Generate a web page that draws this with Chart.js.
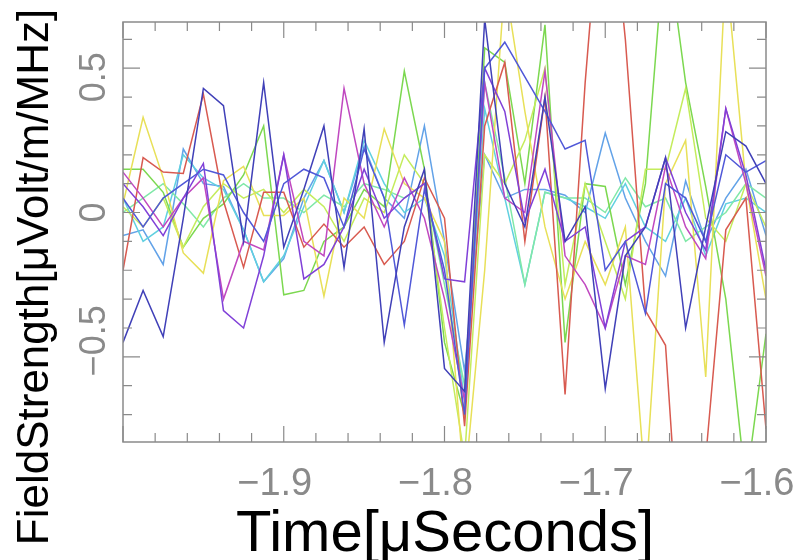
<!DOCTYPE html>
<html>
<head>
<meta charset="utf-8">
<script src="https://cdn.jsdelivr.net/npm/chart.js@4.4.0/dist/chart.umd.min.js"></script>
<style>
  html, body { margin: 0; padding: 0; background: #fff; }
  #wrap { width: 811px; height: 560px; }
</style>
</head>
<body>
<div id="wrap"><canvas id="chart" width="811" height="560"></canvas></div>
<script>
// sample times in microseconds (12.5 ns steps)
const times = [-2.0, -1.9875, -1.975, -1.9625, -1.95, -1.9375, -1.925, -1.9125, -1.9, -1.8875, -1.875,
  -1.8625, -1.85, -1.8375, -1.825, -1.8125, -1.8, -1.7875, -1.775, -1.7625, -1.75, -1.7375,
  -1.725, -1.7125, -1.7, -1.6875, -1.675, -1.6625, -1.65, -1.6375, -1.625, -1.6125, -1.6];

const xTicks = [-1.9, -1.8, -1.7, -1.6];
const yTicks = [-0.5, 0, 0.5];
const yLabelShift = [-16, 0, 9]; // ROOT puts the rotated labels slightly off the tick

// field strength per antenna
const ant1 = [-0.45, -0.27, -0.43, -0.02, 0.43, 0.37, -0.10, 0.45, -0.12, 0.08, 0.30, -0.19, 0.29, -0.45, -0.05, 0.15, -0.54, -0.62, 0.67, 0.10, -0.05, 0.40, -0.10, 0.02, -0.61, -0.15, -0.05, 0.19, -0.40, -0.05, 0.28, 0.23, 0.10];
const ant2 = [0.05, -0.05, 0.05, 0.10, 0.15, 0.13, 0.00, -0.10, 0.10, 0.15, 0.12, -0.05, 0.22, 0.05, -0.39, 0.08, -0.20, -0.70, 0.50, 0.59, 0.47, 0.35, 0.22, 0.25, -0.20, -0.10, -0.35, 0.10, 0.05, -0.10, 0.20, 0.14, 0.18];
const ant3 = [0.10, 0.02, -0.08, 0.05, 0.17, -0.34, -0.40, -0.15, 0.20, -0.23, -0.18, -0.05, 0.15, -0.02, 0.05, 0.10, -0.23, -0.24, 0.50, 0.35, -0.03, 0.15, -0.10, -0.05, -0.40, -0.10, -0.05, 0.19, 0.00, -0.13, 0.36, 0.13, -0.20];
const ant4 = [0.14, 0.05, -0.05, 0.05, 0.12, -0.30, -0.10, -0.13, 0.20, -0.10, -0.15, 0.43, 0.10, -0.05, 0.12, -0.02, -0.30, -0.65, 0.45, 0.05, 0.00, 0.49, -0.15, -0.25, -0.40, -0.15, -0.18, 0.16, -0.05, -0.16, 0.36, 0.10, -0.22];
const ant5 = [-0.20, 0.19, 0.14, 0.135, 0.41, 0.04, -0.19, 0.07, 0.07, -0.12, -0.04, -0.12, -0.05, -0.18, -0.10, 0.12, -0.02, -0.74, 0.30, 0.52, -0.10, 0.40, -0.63, 0.45, 1.30, 0.60, -0.34, -0.46, -1.50, -0.85, -0.06, 0.05, -0.75];
const ant6 = [0.03, 0.33, 0.12, -0.14, -0.21, 0.11, 0.16, -0.01, -0.01, 0.05, -0.29, 0.05, -0.02, 0.29, 0.10, 0.05, -0.10, -0.95, -0.20, 0.80, 0.35, -0.05, -0.30, -0.10, -0.25, -0.05, -0.95, 0.10, 0.25, -0.57, 0.85, 0.10, -0.30];
const ant7 = [0.02, -0.05, 0.05, -0.12, 0.02, 0.10, 0.05, 0.08, 0.00, 0.08, 0.02, -0.10, 0.05, 0.00, 0.20, 0.10, -0.40, -0.85, 0.20, 0.10, 0.25, 0.50, -0.25, 0.10, -0.10, -0.30, 0.15, 0.15, 0.43, -0.02, -0.10, 0.10, -0.05];
const ant8 = [0.15, 0.15, 0.07, -0.12, -0.02, 0.03, 0.13, 0.30, -0.285, -0.27, -0.10, -0.05, 0.08, 0.02, 0.49, 0.15, -0.45, -0.70, 0.57, 0.52, 0.10, 0.65, -0.45, 0.10, 0.09, -0.25, 0.10, 0.97, 0.45, 0.09, -0.30, -0.95, -0.42];
const ant9 = [0.00, 0.05, 0.10, 0.03, -0.05, 0.05, 0.10, 0.05, 0.05, 0.00, 0.06, 0.02, 0.10, 0.08, 0.05, 0.10, -0.25, -0.60, 0.45, 0.12, -0.25, 0.07, 0.05, 0.05, 0.00, 0.12, 0.02, 0.05, -0.10, -0.05, 0.00, 0.10, 0.05];
const ant10 = [0.05, -0.10, -0.05, 0.20, 0.12, 0.08, -0.06, -0.24, -0.15, 0.02, 0.18, 0.00, 0.25, 0.10, 0.00, 0.05, -0.15, -0.65, 0.36, 0.05, -0.25, 0.07, 0.05, 0.02, -0.02, 0.10, -0.05, -0.10, 0.05, -0.15, 0.03, 0.05, 0.00];
const ant11 = [-0.08, -0.06, -0.18, 0.22, 0.10, 0.09, -0.06, -0.24, -0.16, 0.05, 0.18, 0.00, 0.23, 0.05, -0.02, 0.30, -0.10, -0.55, 0.20, 0.05, 0.08, 0.08, 0.06, 0.00, 0.275, 0.05, -0.10, -0.22, 0.11, -0.10, 0.05, 0.15, -0.08];

const antennas = [ant1, ant2, ant3, ant4, ant5, ant6, ant7, ant8, ant9, ant10, ant11];
const colors = ['#4040b8', '#5058d8', '#8040d8', '#c048c0', '#d85a50', '#e8e058', '#c4ec5c', '#7cd850', '#80e8a8', '#60d0e0', '#62a2e8'];

// ROOT-like frame: inward ticks on all four sides, labels and titles
const frameAxes = {
  id: 'frameAxes',
  afterDraw(chart) {
    const { ctx, chartArea: a, scales: { x, y } } = chart;
    ctx.save();
    ctx.strokeStyle = '#8a8a8a';
    ctx.lineWidth = 1.5;
    ctx.strokeRect(a.left, a.top, a.right - a.left, a.bottom - a.top);

    ctx.lineWidth = 1.2;
    ctx.beginPath();
    for (let v = -2.0; v <= -1.6 + 1e-9; v += 0.02) {
      const px = x.getPixelForValue(v);
      const major = Math.abs(v * 10 - Math.round(v * 10)) < 1e-6;
      const len = major ? 16 : 9;
      ctx.moveTo(px, a.bottom); ctx.lineTo(px, a.bottom - len);
      ctx.moveTo(px, a.top); ctx.lineTo(px, a.top + len);
    }
    for (let v = -0.7; v <= 0.61; v += 0.1) {
      const py = y.getPixelForValue(v);
      const major = Math.abs(v * 2 - Math.round(v * 2)) < 1e-6;
      const len = major ? 17 : 9;
      ctx.moveTo(a.left, py); ctx.lineTo(a.left + len, py);
      ctx.moveTo(a.right, py); ctx.lineTo(a.right - len, py);
    }
    ctx.stroke();

    ctx.fillStyle = '#8a8a8a';
    ctx.font = '38px "Liberation Sans", Arial, sans-serif';
    ctx.textAlign = 'center';
    ctx.textBaseline = 'middle';
    xTicks.forEach(v => {
      ctx.fillText('\u2212' + Math.abs(v).toFixed(1), x.getPixelForValue(v) - 9, 485);
    });
    ctx.font = '36px "Liberation Sans", Arial, sans-serif';
    yTicks.forEach((v, i) => {
      const txt = v < 0 ? '\u2212' + Math.abs(v).toFixed(1) : (v === 0 ? '0' : v.toFixed(1));
      ctx.save();
      ctx.translate(95, y.getPixelForValue(v) + yLabelShift[i]);
      ctx.rotate(-Math.PI / 2);
      ctx.fillText(txt, 0, 0);
      ctx.restore();
    });

    ctx.fillStyle = '#000';
    ctx.font = '58px "Liberation Sans", Arial, sans-serif';
    ctx.fillText('Time[\u03bcSeconds]', 445, 535);
    ctx.save();
    ctx.translate(36, 277);
    ctx.rotate(-Math.PI / 2);
    ctx.font = '44px "Liberation Sans", Arial, sans-serif';
    ctx.fillText('FieldStrength[\u03bcVolt/m/MHz]', 0, 0);
    ctx.restore();
    ctx.restore();
  }
};

new Chart(document.getElementById('chart'), {
  type: 'line',
  data: {
    datasets: antennas.map((vals, i) => ({
      data: vals.map((v, k) => ({ x: times[k], y: v })),
      borderColor: colors[i],
      borderWidth: 1.5,
      pointRadius: 0,
      tension: 0,
      fill: false
    }))
  },
  options: {
    responsive: false,
    animation: false,
    devicePixelRatio: 1,
    layout: { padding: { left: 123, top: 22, right: 45, bottom: 118 } },
    plugins: { legend: { display: false }, tooltip: { enabled: false } },
    scales: {
      x: { type: 'linear', min: -2.0, max: -1.6, display: false },
      y: { type: 'linear', min: -0.795, max: 0.66, display: false }
    }
  },
  plugins: [frameAxes]
});
</script>
</body>
</html>
